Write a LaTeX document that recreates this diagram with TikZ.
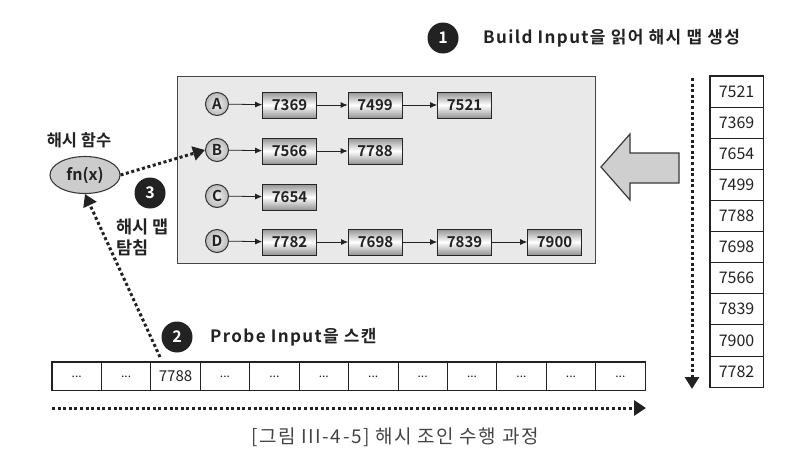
\documentclass[tikz,border=0pt]{standalone}
\usepackage{fontspec}
\setmainfont{Noto Sans CJK KR}[BoldFont={Noto Sans CJK KR Bold}]
\usetikzlibrary{arrows.meta,shapes.geometric}
\definecolor{ink}{HTML}{222222}
\begin{document}
\begin{tikzpicture}[x=1pt,y=-1pt,
  hmap/.style={draw=gray!55!black, fill=gray!17, line width=1.3pt, inner sep=0pt},
  keyc/.style={circle, draw=gray!40!black, line width=1pt, minimum size=23pt, inner sep=0pt,
    inner color=gray!12, outer color=gray!55, text=ink, font=\bfseries\fontsize{15}{15}\selectfont},
  bucket/.style={draw=gray!30!black, line width=0.8pt, minimum width=54pt, minimum height=26pt, inner sep=0pt,
    top color=gray!85, bottom color=gray!85, middle color=white, text=ink, font=\bfseries\fontsize{15}{15}\selectfont},
  link/.style={-{Latex[length=7pt,width=6pt]}, line width=0.8pt, draw=ink},
  bcell/.style={draw=ink, line width=0.7pt, minimum width=53pt, minimum height=31.1pt, inner sep=0pt,
    text=ink, font=\fontsize{16}{16}\selectfont},
  pcell/.style={draw=ink, line width=0.7pt, minimum width=49.42pt, minimum height=28pt, inner sep=0pt,
    text=ink, font=\fontsize{12}{12}\selectfont},
  dots/.style={line width=3pt, dash pattern=on 3pt off 2.6pt, draw=ink},
  numc/.style={circle, fill=ink, text=white, minimum size=31pt, inner sep=0pt, font=\bfseries\fontsize{16}{16}\selectfont},
  lbl/.style={text=ink, inner sep=0pt, font=\bfseries\fontsize{17}{19}\selectfont},
  wide/.style={text=ink, inner sep=0pt, font=\bfseries\fontsize{17}{19}\selectfont\addfontfeature{LetterSpace=8}}
]
\useasboundingbox (0,0) rectangle (786,463);

% hash map box
\node[hmap, minimum width=418pt, minimum height=187pt, anchor=north west] (hm) at (177,76) {};

% keys
\node[keyc] (A) at (217,104) {A};
\node[keyc] (B) at (217,150) {B};
\node[keyc] (C) at (217,196) {C};
\node[keyc] (D) at (217,241) {D};

% buckets
\node[bucket] (a1) at (289.5,105) {7369};
\node[bucket] (a2) at (375,105) {7499};
\node[bucket] (a3) at (464.5,105) {7521};
\node[bucket] (b1) at (289.5,151) {7566};
\node[bucket] (b2) at (375,151) {7788};
\node[bucket] (c1) at (289.5,197) {7654};
\node[bucket] (d1) at (289.5,242) {7782};
\node[bucket] (d2) at (375.5,242) {7698};
\node[bucket] (d3) at (464.5,242) {7839};
\node[bucket] (d4) at (554.5,242) {7900};

\draw[link] (A) -- (a1);
\draw[link] (a1) -- (a2);
\draw[link] (a2) -- (a3);
\draw[link] (B) -- (b1);
\draw[link] (b1) -- (b2);
\draw[link] (C) -- (c1);
\draw[link] (D) -- (d1);
\draw[link] (d1) -- (d2);
\draw[link] (d2) -- (d3);
\draw[link] (d3) -- (d4);

% big left arrow
\draw[fill=gray!38, draw=gray!45!black, line width=1.2pt, line join=miter]
  (601,167) -- (630,134) -- (630,153) -- (679,153) -- (679,183) -- (630,183) -- (630,200) -- cycle;

% build input table
\foreach \v [count=\i from 0] in {7521,7369,7654,7499,7788,7698,7566,7839,7900,7782}{
  \node[bcell] (r\i) at (736.5,{76+15.55+31.1*\i}) {\v};
}
\draw[ink, line width=1.4pt] (r0.north west) rectangle (r9.south east);

% vertical dotted arrow
\coordinate (vs) at (692,78);
\coordinate (ve) at (692,389);
\draw[dots, -{Triangle[length=12pt,width=14pt]}] (vs) -- (ve);

% label 1
\node[numc] (n1) at (443,38) {1};
\node[wide, anchor=west] (t1) at (483,38) {Build Input을 읽어 해시 맵 생성};

% hash function
\node[lbl, font=\bfseries\fontsize{16.5}{18}\selectfont] (hf) at (79,140) {해시 함수};
\node[ellipse, draw=gray!45!black, line width=1.1pt, fill=gray!40, minimum width=70pt, minimum height=37pt, inner sep=0pt,
  text=ink, font=\bfseries\fontsize{16}{16}\selectfont] (fn) at (85,175) {fn(x)};

% label 3
\node[numc] (n3) at (150,193) {3};
\node[lbl, anchor=west, font=\bfseries\fontsize{17.5}{19}\selectfont] (t3a) at (116,227) {해시 맵};
\node[lbl, anchor=west, font=\bfseries\fontsize{17.5}{19}\selectfont] (t3b) at (116,248) {탐침};

% probe table
\foreach \i in {0,...,11}{
  \ifnum\i=2
    \node[pcell, font=\fontsize{15}{15}\selectfont] (p\i) at ({52+24.71+49.42*\i},376) {7788};
  \else
    \node[pcell] (p\i) at ({52+24.71+49.42*\i},376) {\raisebox{-3pt}{...}};
  \fi
}
\draw[ink, line width=1.4pt] (p0.north west) rectangle (p11.south east);

% label 2
\node[numc] (n2) at (177,337) {2};
\node[wide, anchor=west] (t2) at (210,337) {Probe Input을 스캔};

% dotted connectors
\draw[dots, -{Triangle[length=12pt,width=14pt]}] (fn.east) -- (B.west);
\coordinate (ps) at (160,357);
\draw[dots, -{Triangle[length=12pt,width=14pt]}] (ps) -- (fn.south);

% horizontal dotted arrow
\coordinate (hs) at (52,408);
\coordinate (he) at (646,408);
\draw[dots, -{Triangle[length=12pt,width=15pt]}] (hs) -- (he);

% caption
\node[text=ink!85, inner sep=0pt, font=\fontsize{19}{21}\selectfont\addfontfeature{LetterSpace=8}] (cap) at (395,437) {[그림 III-4-5] 해시 조인 수행 과정};
\end{tikzpicture}
\end{document}
